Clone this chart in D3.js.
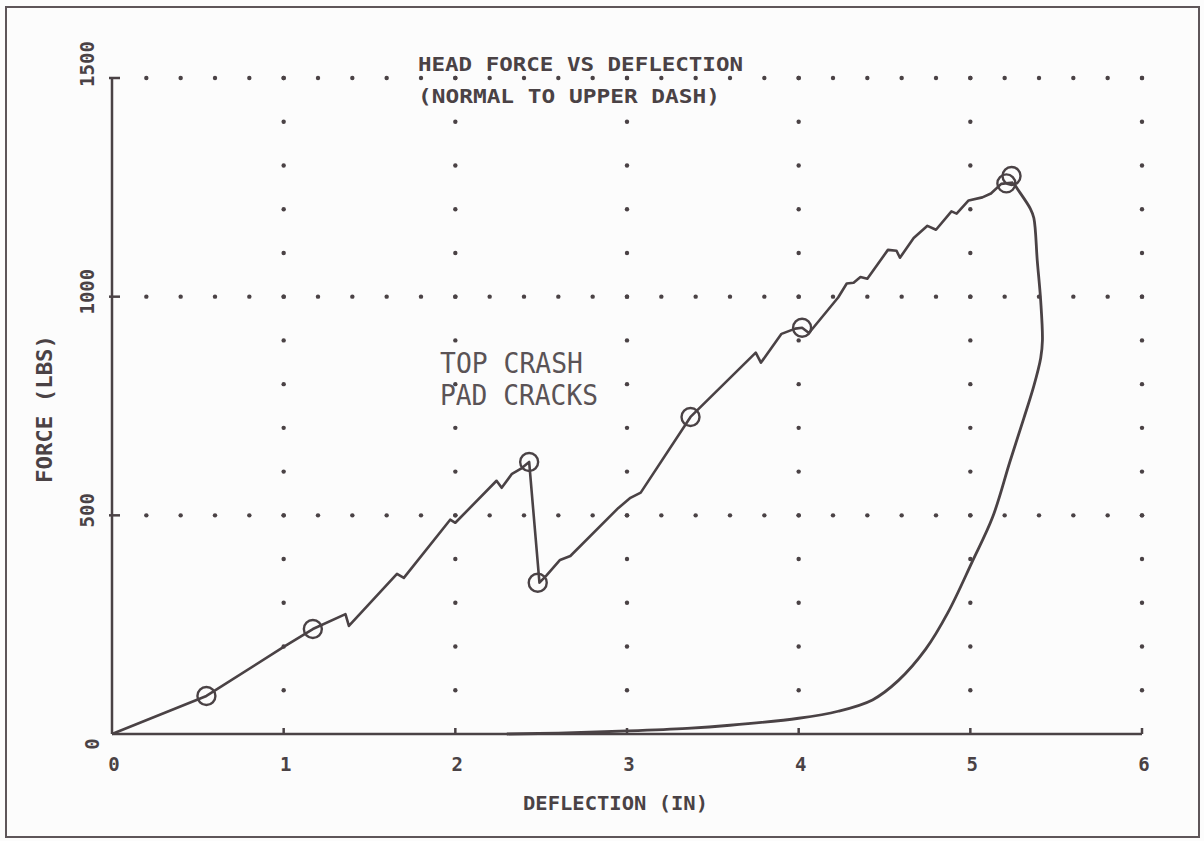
<!DOCTYPE html>
<meta charset="utf-8">
<style>
body { margin: 0; background: #fff; }
text { font-family: "DejaVu Sans Mono", monospace; fill: #4a4245; }
.plot { font-weight: bold; }
.note { font-weight: normal; fill: #5a5356; }
</style>
<svg width="1204" height="841"></svg>
<script src="https://d3js.org/d3.v7.min.js"></script>
<script>

// data
var loadX = [0, 0.55, 1.0, 1.17, 1.36, 1.38, 1.66, 1.70, 1.97, 2.00, 2.24, 2.27, 2.33, 2.38, 2.43,
             2.49, 2.53, 2.61, 2.67, 2.95, 3.02, 3.08, 3.37, 3.75, 3.78, 3.90, 3.98, 4.02, 4.06,
             4.23, 4.28, 4.32, 4.36, 4.40, 4.52, 4.57, 4.59, 4.67, 4.75, 4.80, 4.89, 4.92, 4.99,
             5.07, 5.12, 5.18, 5.25];
var loadY = [0, 87, 199, 240, 274, 247, 366, 357, 490, 483, 579, 563, 595, 606, 622,
             346, 362, 398, 407, 517, 540, 552, 725, 872, 849, 915, 927, 929, 917,
             998, 1030, 1032, 1045, 1041, 1107, 1105, 1089, 1134, 1162, 1153, 1195, 1190, 1220,
             1227, 1236, 1258, 1261];

var unloadX = [5.25, 5.27, 5.35, 5.37, 5.39, 5.41, 5.42, 5.41, 5.37, 5.31, 5.23, 5.13, 5.01,
               4.87, 4.74, 4.58, 4.43, 4.23, 4.0, 3.6, 3.35, 3.0, 2.6, 2.3];
var unloadY = [1261, 1249, 1201, 1180, 1082, 990, 900, 860, 796, 720, 622, 496, 393,
               278, 194, 122, 78, 52, 36, 20, 13, 7, 2, 0];

var markX = [0.55, 1.17, 2.43, 2.48, 3.37, 4.02, 5.21, 5.24];
var markY = [87, 240, 622, 346, 725, 929, 1259, 1276];

var xTicks = [0, 1, 2, 3, 4, 5, 6];
var yTicks = [0, 500, 1000, 1500];

var titleLines = ["HEAD FORCE VS DEFLECTION", "(NORMAL TO UPPER DASH)"];
var noteLines = ["TOP CRASH", "PAD CRACKS"];

var svg = d3.select("svg"),
    ink = "#4a4245";

svg.append("rect")
    .attr("width", 1204).attr("height", 841)
    .attr("fill", "#fcfcfc");

// outer frame
svg.append("rect")
    .attr("x", 6).attr("y", 7)
    .attr("width", 1193).attr("height", 830)
    .attr("fill", "none")
    .attr("stroke", "#5e5659")
    .attr("stroke-width", 2);

var x = d3.scaleLinear().domain([0, 6]).range([112, 1142]);
var y = d3.scaleLinear().domain([0, 1500]).range([734, 78]);

// dotted grid: rows at 500s, columns at whole inches
var dots = [];
[500, 1000, 1500].forEach(function(v) {
  d3.range(1, 31).forEach(function(i) { dots.push([i * 0.2, v]); });
});
d3.range(1, 7).forEach(function(c) {
  d3.range(1, 16).forEach(function(i) { dots.push([c, i * 100]); });
});

svg.append("g")
  .selectAll("circle")
  .data(dots)
  .enter().append("circle")
    .attr("cx", function(d) { return x(d[0]); })
    .attr("cy", function(d) { return y(d[1]); })
    .attr("r", 2.2)
    .attr("fill", ink);

// axes
svg.append("line")
    .attr("x1", x(0)).attr("x2", x(0))
    .attr("y1", y(0)).attr("y2", y(1500))
    .attr("stroke", ink).attr("stroke-width", 2.5);
svg.append("line")
    .attr("x1", x(0)).attr("x2", x(6))
    .attr("y1", y(0)).attr("y2", y(0))
    .attr("stroke", ink).attr("stroke-width", 2.5);

svg.append("g")
  .selectAll("line")
  .data(yTicks.slice(1))
  .enter().append("line")
    .attr("x1", x(0) - 3).attr("x2", x(0) + 8)
    .attr("y1", function(d) { return y(d); })
    .attr("y2", function(d) { return y(d); })
    .attr("stroke", ink).attr("stroke-width", 2.5);

svg.append("g")
  .selectAll("line")
  .data(xTicks.slice(1))
  .enter().append("line")
    .attr("x1", function(d) { return x(d); })
    .attr("x2", function(d) { return x(d); })
    .attr("y1", y(0)).attr("y2", y(0) - 6)
    .attr("stroke", ink).attr("stroke-width", 2.5);

// tick labels
svg.append("g")
  .selectAll("text")
  .data(xTicks)
  .enter().append("text")
    .attr("class", "plot")
    .attr("x", function(d) { return x(d) + 2; })
    .attr("y", 771)
    .attr("text-anchor", "middle")
    .attr("font-size", 19)
    .text(function(d) { return d; });

svg.append("g")
  .selectAll("text")
  .data(yTicks)
  .enter().append("text")
    .attr("class", "plot")
    .attr("transform", function(d) {
      var off = d === 1500 ? 14 : d === 0 ? -10 : 5;
      return "translate(" + (d === 0 ? 99 : 94) + "," + (y(d) - off) + ") rotate(-90)";
    })
    .attr("text-anchor", "middle")
    .attr("font-size", 19)
    .text(function(d) { return d; });

// axis titles
svg.append("text")
    .attr("class", "plot")
    .attr("x", 523).attr("y", 810)
    .attr("font-size", 19)
    .attr("textLength", 185)
    .attr("lengthAdjust", "spacingAndGlyphs")
    .text("DEFLECTION (IN)");

svg.append("text")
    .attr("class", "plot")
    .attr("transform", "translate(52,483) rotate(-90)")
    .attr("font-size", 21)
    .attr("textLength", 148)
    .attr("lengthAdjust", "spacingAndGlyphs")
    .text("FORCE (LBS)");

// title
svg.append("g")
  .selectAll("text")
  .data(titleLines)
  .enter().append("text")
    .attr("class", "plot")
    .attr("x", 418)
    .attr("y", function(d, i) { return i ? 103 : 71; })
    .attr("font-size", 19)
    .attr("textLength", function(d, i) { return i ? 302 : 325; })
    .attr("lengthAdjust", "spacingAndGlyphs")
    .text(function(d) { return d; });

// annotation
svg.append("g")
  .selectAll("text")
  .data(noteLines)
  .enter().append("text")
    .attr("class", "note")
    .attr("x", 440)
    .attr("y", function(d, i) { return i ? 405 : 373; })
    .attr("font-size", 28)
    .attr("textLength", function(d, i) { return i ? 158 : 143; })
    .attr("lengthAdjust", "spacingAndGlyphs")
    .text(function(d) { return d; });

// curves
var line = d3.line()
    .x(function(d) { return x(d[0]); })
    .y(function(d) { return y(d[1]); });

svg.append("path")
    .datum(d3.zip(loadX, loadY))
    .attr("d", line)
    .attr("fill", "none")
    .attr("stroke", ink)
    .attr("stroke-width", 2.6)
    .attr("stroke-linejoin", "round");

svg.append("path")
    .datum(d3.zip(unloadX, unloadY))
    .attr("d", line.curve(d3.curveCatmullRom.alpha(0.5)))
    .attr("fill", "none")
    .attr("stroke", ink)
    .attr("stroke-width", 2.8);

svg.append("g")
  .selectAll("circle")
  .data(d3.zip(markX, markY))
  .enter().append("circle")
    .attr("cx", function(d) { return x(d[0]); })
    .attr("cy", function(d) { return y(d[1]); })
    .attr("r", 9)
    .attr("fill", "none")
    .attr("stroke", ink)
    .attr("stroke-width", 2.4);

</script>
